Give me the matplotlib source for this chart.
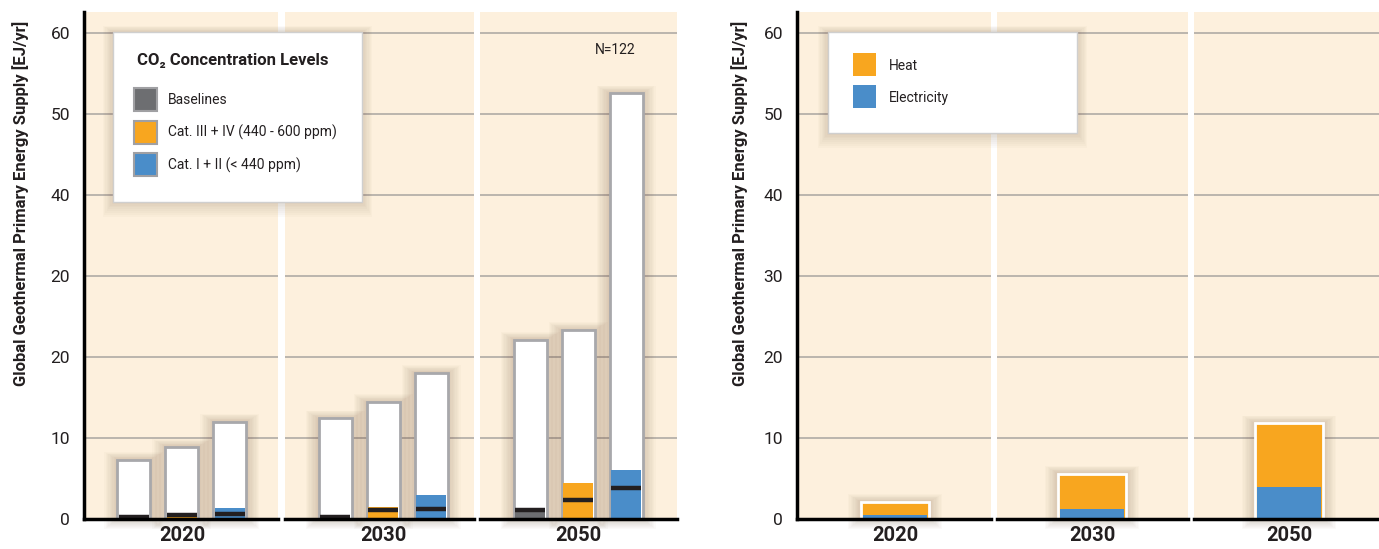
import matplotlib.pyplot as plt
from matplotlib.patches import Rectangle

# ---- data ----
years = ['2020', '2030', '2050']
scenarios = ['Baselines', 'Cat. III + IV (440 - 600 ppm)', 'Cat. I + II (< 440 ppm)']
# per year, per scenario: full range (white bar), coloured top, median line
range_max = [[7.3, 8.9, 12.0], [12.4, 14.4, 18.0], [22.1, 23.3, 52.5]]
colour_top = [[0.5, 0.75, 1.3], [0.55, 1.45, 2.9], [1.3, 4.4, 6.0]]
median = [[0.3, 0.45, 0.6], [0.3, 1.1, 1.2], [1.1, 2.3, 3.8]]
n_label = 'N=122'

uses = ['Heat', 'Electricity']
total_supply = [2.1, 5.6, 11.8]
electricity = [0.46, 1.2, 4.0]

left_ticks = [0, 10, 20, 30, 40, 50, 60]
left_ticklabels = ['0', '10', '20', '20', '40', '50', '60']
right_ticklabels = ['0', '10', '20', '30', '40', '50', '60']
ylabel = 'Global Geothermal Primary Energy Supply [EJ/yr]'

# ---- styling ----
W, H = 1379, 549
BG = '#fdf0dd'
GREY = '#6d6e71'
ORANGE = '#f8a61f'
BLUE = '#4a8dc9'
INK = '#231f20'
scen_colors = [GREY, ORANGE, BLUE]
plt.rcParams['font.family'] = ['Roboto', 'DejaVu Sans']

Y_TOP, Y_BASE = 12, 519
YMAX = 60 + (32.5 - Y_TOP) / 8.1

fig = plt.figure(figsize=(W / 100, H / 100), dpi=100)


def make_axes(x0, x1):
    return fig.add_axes([x0 / W, 1 - Y_BASE / H, (x1 - x0) / W, (Y_BASE - Y_TOP) / H])


def style_axes(ax, first, ticklabels):
    ax.set_facecolor(BG)
    ax.set_ylim(0, YMAX)
    ax.set_yticks(left_ticks)
    ax.yaxis.grid(True, color='#b5b0a9', lw=1.3)
    ax.set_axisbelow(True)
    for s in ['top', 'right', 'left']:
        ax.spines[s].set_visible(False)
    ax.spines['bottom'].set_color('black')
    ax.spines['bottom'].set_linewidth(2.5)
    ax.spines['bottom'].set_zorder(6)
    if first:
        ax.spines['left'].set_visible(True)
        ax.spines['left'].set_color('black')
        ax.spines['left'].set_linewidth(2.5)
        ax.set_yticklabels(ticklabels, fontsize=12.5, color=INK)
    else:
        ax.set_yticklabels([])
    ax.tick_params(axis='y', length=0, pad=10)
    ax.tick_params(axis='x', length=0, pad=5)


def shadow(ax, x, bw, h, ppx, ppy):
    # soft drop shadow made of stacked translucent rectangles
    for k in range(1, 11):
        p = 1.3 * k
        ax.add_patch(Rectangle((x - bw / 2 - p / ppx, -p * 0.8 / ppy), bw + 2 * p / ppx,
                               h + p * 1.4 / ppy, fc='#6b4a2a', ec='none', alpha=0.022,
                               zorder=1.5, clip_on=False))


ppy = (Y_BASE - Y_TOP) / YMAX

# ---- left chart: ranges per concentration category ----
left_panels = [(84, 278), (285, 474), (480, 677)]
px_unit = 48.0
bw = 33 / px_unit
for i, (x0, x1) in enumerate(left_panels):
    ax = make_axes(x0, x1)
    style_axes(ax, i == 0, left_ticklabels)
    lo = -50 / px_unit
    ax.set_xlim(lo, lo + (x1 - x0) / px_unit)
    pos = list(range(len(scenarios)))
    for j in pos:
        shadow(ax, j, bw, range_max[i][j], px_unit, ppy)
    ax.bar(pos, range_max[i], width=bw, color='white', edgecolor='#a8a8ab', lw=2, zorder=3)
    ax.bar(pos, colour_top[i], width=bw - 0.06, color=scen_colors, lw=0, zorder=4)
    ax.hlines(median[i], [p - bw / 2 + 0.03 for p in pos], [p + bw / 2 - 0.03 for p in pos],
              color=INK, lw=3.2, zorder=5)
    ax.set_xticks([1])
    ax.set_xticklabels([years[i]], fontsize=14.5, fontweight='bold', color=INK)
    if i == len(left_panels) - 1:
        ax.text((615 - x0) / px_unit + lo, 60 - (50 - 32.5) / ppy, n_label,
                fontsize=10, color=INK, ha='center', va='center')

# ---- right chart: heat vs electricity ----
right_panels = [(797, 991), (997, 1188), (1194, 1379)]
offsets = [98, 95, 95]
px_unit_r = 97.0
bw_r = 68 / px_unit_r
for i, (x0, x1) in enumerate(right_panels):
    ax = make_axes(x0, x1)
    style_axes(ax, i == 0, right_ticklabels)
    lo = -offsets[i] / px_unit_r
    ax.set_xlim(lo, lo + (x1 - x0) / px_unit_r)
    shadow(ax, 0, bw_r, total_supply[i], px_unit_r, ppy)
    ax.bar([0], [total_supply[i]], width=bw_r, color=ORANGE, edgecolor='white', lw=2, zorder=3)
    ax.bar([0], [electricity[i]], width=bw_r - 0.035, color=BLUE, lw=0, zorder=4)
    ax.set_xticks([0])
    ax.set_xticklabels([years[i]], fontsize=14.5, fontweight='bold', color=INK)

fig.text(21 / W, 1 - 203 / H, ylabel, rotation=90, ha='center', va='center',
         fontsize=12, fontweight='bold', color=INK)
fig.text(740 / W, 1 - 203 / H, ylabel, rotation=90, ha='center', va='center',
         fontsize=12, fontweight='bold', color=INK)

# ---- legends in pixel coordinates ----
ov = fig.add_axes([0, 0, 1, 1], zorder=10)
ov.set_xlim(0, W)
ov.set_ylim(H, 0)
ov.axis('off')


def legend_box(x, y, w, h):
    for k in range(1, 9):
        p = 1.3 * k
        ov.add_patch(Rectangle((x - p, y - p * 0.6), w + 2 * p, h + 2 * p, fc='#6b4a2a',
                               ec='none', alpha=0.025))
    ov.add_patch(Rectangle((x, y), w, h, fc='white', ec='#cfcfcf', lw=1))


legend_box(113, 32, 249, 170)
ov.text(137, 61, 'CO\u2082 Concentration Levels', fontsize=12, fontweight='bold',
        color=INK, va='center', ha='left')
for k, (name, c) in enumerate(zip(scenarios, scen_colors)):
    yy = 88 + 32.5 * k
    ov.add_patch(Rectangle((134, yy), 23, 23, fc=c, ec='#a0a0a3', lw=1.5))
    ov.text(168, yy + 12, name, fontsize=10, color=INK, va='center', ha='left')

legend_box(828, 32, 249, 101)
for k, (name, c) in enumerate(zip(uses, [ORANGE, BLUE])):
    yy = 53 + 32 * k
    ov.add_patch(Rectangle((853, yy), 23, 23, fc=c, ec='none'))
    ov.text(889, yy + 13, name, fontsize=10, color=INK, va='center', ha='left')

fig.savefig('out.png', dpi=100, facecolor='white')
